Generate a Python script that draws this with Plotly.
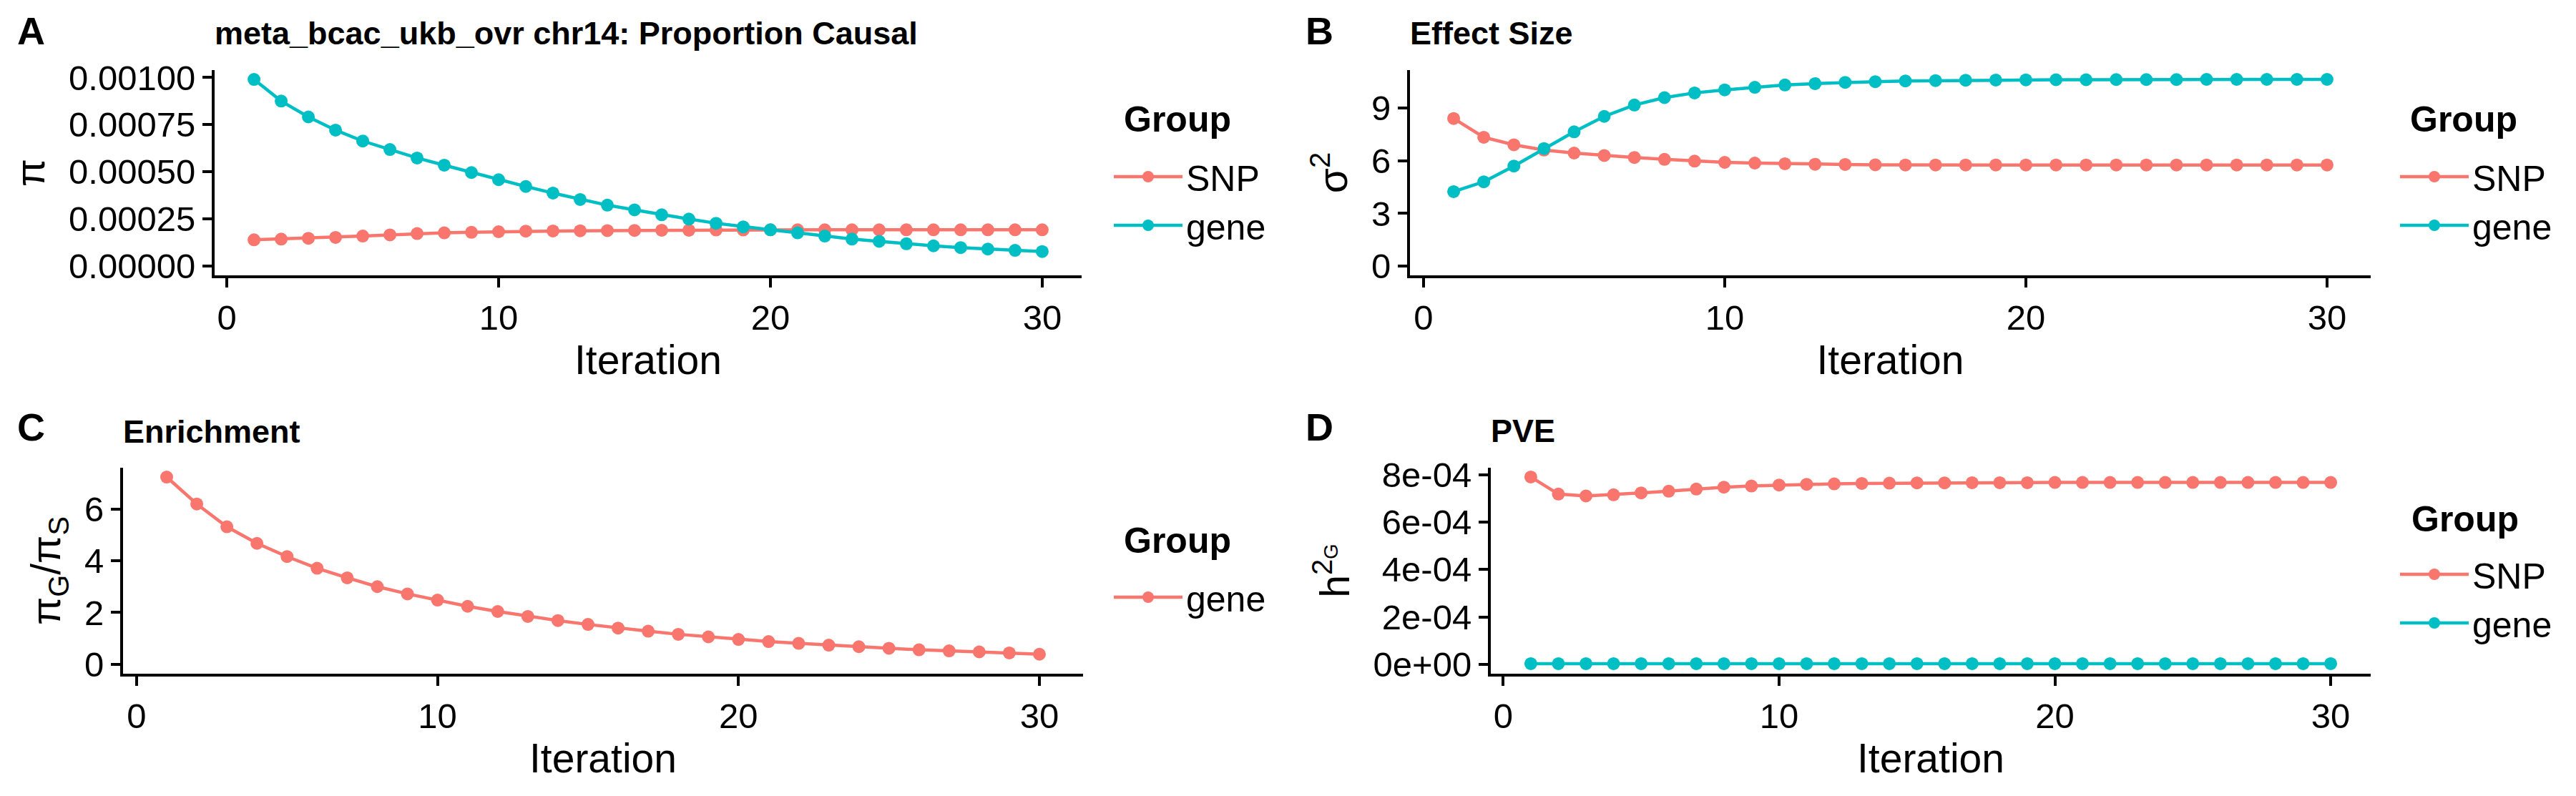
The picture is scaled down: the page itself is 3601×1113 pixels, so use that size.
import plotly.graph_objects as go

# ---------------- data ----------------
iteration = [1, 2, 3, 4, 5, 6, 7, 8, 9, 10, 11, 12, 13, 14, 15,
             16, 17, 18, 19, 20, 21, 22, 23, 24, 25, 26, 27, 28, 29, 30]

groups = ["SNP", "gene"]

pi_snp = [0.000139, 0.000143, 0.000147, 0.000152, 0.000159, 0.000165, 0.000172, 0.000176,
          0.000179, 0.000182, 0.000185, 0.000186, 0.000187, 0.000188, 0.000189, 0.000190,
          0.000190, 0.000191, 0.000191, 0.000192, 0.000192, 0.000192, 0.000192, 0.000192,
          0.000192, 0.000192, 0.000192, 0.000192, 0.000192, 0.000192]
pi_gene = [0.000990, 0.000875, 0.000791, 0.000721, 0.000663, 0.000618, 0.000573, 0.000535,
           0.000496, 0.000458, 0.000422, 0.000387, 0.000353, 0.000323, 0.000298, 0.000272,
           0.000249, 0.000227, 0.000208, 0.000192, 0.000176, 0.000159, 0.000143, 0.000131,
           0.000118, 0.000107, 0.000098, 0.000090, 0.000083, 0.000077]

sigma_snp = [8.41, 7.34, 6.91, 6.61, 6.44, 6.30, 6.19, 6.08, 5.98, 5.91, 5.87, 5.83, 5.80, 5.79,
             5.77, 5.76, 5.76, 5.76, 5.76, 5.76, 5.76, 5.76, 5.76, 5.76, 5.76, 5.76, 5.76, 5.76,
             5.76, 5.76]
sigma_gene = [4.24, 4.80, 5.70, 6.70, 7.65, 8.53, 9.18, 9.60, 9.87, 10.04, 10.19, 10.32, 10.40,
              10.47, 10.51, 10.55, 10.57, 10.59, 10.60, 10.61, 10.62, 10.62, 10.63, 10.63, 10.63,
              10.64, 10.64, 10.64, 10.64, 10.64]

enrichment_gene = [7.23, 6.19, 5.31, 4.67, 4.16, 3.71, 3.34, 3.00, 2.72, 2.48, 2.24, 2.04, 1.85,
                   1.69, 1.54, 1.40, 1.28, 1.16, 1.06, 0.96, 0.88, 0.81, 0.74, 0.68, 0.62, 0.56,
                   0.52, 0.48, 0.44, 0.39]

pve_snp = [0.000790, 0.000718, 0.000710, 0.000715, 0.000723, 0.000730, 0.000739, 0.000747,
           0.000752, 0.000756, 0.000759, 0.000761, 0.000763, 0.000764, 0.000765, 0.000765,
           0.000766, 0.000766, 0.000766, 0.000767, 0.000767, 0.000767, 0.000767, 0.000767,
           0.000767, 0.000767, 0.000767, 0.000767, 0.000767, 0.000767]
pve_gene = [0.000003, 0.000003, 0.000003, 0.000003, 0.000003, 0.000003, 0.000003, 0.000003,
            0.000003, 0.000003, 0.000003, 0.000003, 0.000003, 0.000003, 0.000003, 0.000003,
            0.000003, 0.000003, 0.000003, 0.000003, 0.000003, 0.000003, 0.000003, 0.000003,
            0.000003, 0.000003, 0.000003, 0.000003, 0.000003, 0.000003]

x_ticks = [0, 10, 20, 30]
a_ticks = [0.0, 0.00025, 0.0005, 0.00075, 0.001]
a_ticktext = ["0.00000", "0.00025", "0.00050", "0.00075", "0.00100"]
b_ticks = [0, 3, 6, 9]
c_ticks = [0, 2, 4, 6]
d_ticks = [0.0, 0.0002, 0.0004, 0.0006, 0.0008]
d_ticktext = ["0e+00", "2e-04", "4e-04", "6e-04", "8e-04"]

panel_titles = ["meta_bcac_ukb_ovr chr14: Proportion Causal", "Effect Size", "Enrichment", "PVE"]
panel_labels = ["A", "B", "C", "D"]
y_titles = ["π", "σ<sup>2</sup>", "π<sub>G</sub>/π<sub>S</sub>", "h<sup>2<sub>G</sub></sup>"]
x_title = "Iteration"
legend_title = "Group"

# ---------------- styling / layout ----------------
W, H = 3601, 1113
FONT = "Liberation Sans, Arial, sans-serif"
RED, TEAL = "#F8766D", "#00BFC4"
TICK_FONT = 49
AXTITLE_FONT = 57
LEG_FONT = 50
LEG_TITLE_FONT = 50
TITLE_FONT = 45
LABEL_FONT = 54
LINE_W = 4.5
MARK = 18


def fx(px):
    return px / W


def fy(py):
    return 1 - py / H


# plot areas in pixels: (left, right, top, bottom)
areas = {
    "A": (300, 1512, 98, 385),
    "B": (1971, 3314, 98, 385),
    "C": (172, 1514, 654, 942),
    "D": (2084, 3314, 654, 942),
}
y_ranges = {
    "A": [-0.0000495, 0.0010395],
    "B": [-0.532, 11.17],
    "C": [-0.362, 7.59],
    "D": [-0.0000395, 0.000829],
}
x_range = [-0.45, 31.45]

fig = go.Figure()

axis_common = dict(
    showgrid=False, zeroline=False, showline=True, linecolor="black", linewidth=4,
    ticks="outside", ticklen=13, tickwidth=4, tickcolor="black", automargin=False,
    tickfont=dict(family=FONT, size=TICK_FONT, color="black"),
)

panel_series = {
    "A": [("SNP", pi_snp, RED), ("gene", pi_gene, TEAL)],
    "B": [("SNP", sigma_snp, RED), ("gene", sigma_gene, TEAL)],
    "C": [("gene", enrichment_gene, RED)],
    "D": [("SNP", pve_snp, RED), ("gene", pve_gene, TEAL)],
}
y_tick_setup = {
    "A": (a_ticks, a_ticktext),
    "B": (b_ticks, [str(v) for v in b_ticks]),
    "C": (c_ticks, [str(v) for v in c_ticks]),
    "D": (d_ticks, d_ticktext),
}
legend_pos = {  # left, top of the legend items in px
    "A": (1552, 208),
    "B": (3350, 208),
    "C": (1552, 796),
    "D": (3350, 764),
}
legend_title_pos = {  # left, cap-centre in px
    "A": (1569, 167),
    "B": (3367, 167),
    "C": (1569, 756),
    "D": (3369, 726),
}
label_pos = {"A": (22, 43), "B": (1823, 43), "C": (22, 597), "D": (1823, 597)}
title_pos = {"A": (298, 46), "B": (1969, 47), "C": (170, 603), "D": (2082, 602)}

annotations = []
for i, key in enumerate(["A", "B", "C", "D"]):
    n = "" if i == 0 else str(i + 1)
    left, right, top, bottom = areas[key]
    legname = "legend" + n
    for name, vals, col in panel_series[key]:
        fig.add_trace(go.Scatter(
            x=iteration, y=vals, name=name, mode="lines+markers",
            line=dict(color=col, width=LINE_W),
            marker=dict(color=col, size=MARK),
            xaxis="x" + n, yaxis="y" + n, legend=legname,
        ))
    tv, tt = y_tick_setup[key]
    fig.layout["xaxis" + n] = dict(
        axis_common, domain=[fx(left), fx(right)], range=x_range,
        tickvals=x_ticks, anchor="y" + n,
        title=dict(text=x_title, font=dict(family=FONT, size=AXTITLE_FONT, color="black"),
                   standoff=14),
    )
    fig.layout["yaxis" + n] = dict(
        axis_common, domain=[fy(bottom), fy(top)], range=y_ranges[key],
        tickvals=tv, ticktext=tt, anchor="x" + n,
        title=dict(text=y_titles[i], font=dict(family=FONT, size=AXTITLE_FONT, color="black"),
                   standoff=16),
    )
    lx, ly = legend_pos[key]
    fig.layout[legname] = dict(
        x=fx(lx), y=fy(ly), xanchor="left", yanchor="top",
        xref="paper", yref="paper",
        bgcolor="rgba(0,0,0,0)", borderwidth=0,
        font=dict(family=FONT, size=LEG_FONT, color="black"),
        itemwidth=96,
    )
    gx, gy = legend_title_pos[key]
    annotations.append(dict(
        text="<b>" + legend_title + "</b>", x=fx(gx), y=fy(gy),
        xref="paper", yref="paper", xanchor="left", yanchor="middle", showarrow=False,
        font=dict(family=FONT, size=LEG_TITLE_FONT, color="black"),
    ))
    px_, py_ = label_pos[key]
    annotations.append(dict(
        text="<b>" + panel_labels[i] + "</b>", x=fx(px_), y=fy(py_),
        xref="paper", yref="paper", xanchor="left", yanchor="middle", showarrow=False,
        font=dict(family=FONT, size=LABEL_FONT, color="black"),
    ))
    tx, ty = title_pos[key]
    annotations.append(dict(
        text="<b>" + panel_titles[i] + "</b>", x=fx(tx), y=fy(ty),
        xref="paper", yref="paper", xanchor="left", yanchor="middle", showarrow=False,
        font=dict(family=FONT, size=TITLE_FONT, color="black"),
    ))

fig.update_layout(
    width=W, height=H, autosize=False,
    margin=dict(l=0, r=0, t=0, b=0, autoexpand=False),
    paper_bgcolor="white", plot_bgcolor="white",
    font=dict(family=FONT, color="black"),
    annotations=annotations,
    showlegend=True,
)

fig.write_html(
    "out.html",
    config={"displayModeBar": False},
    post_script="document.body.style.margin='0';document.body.style.overflow='hidden';",
)
